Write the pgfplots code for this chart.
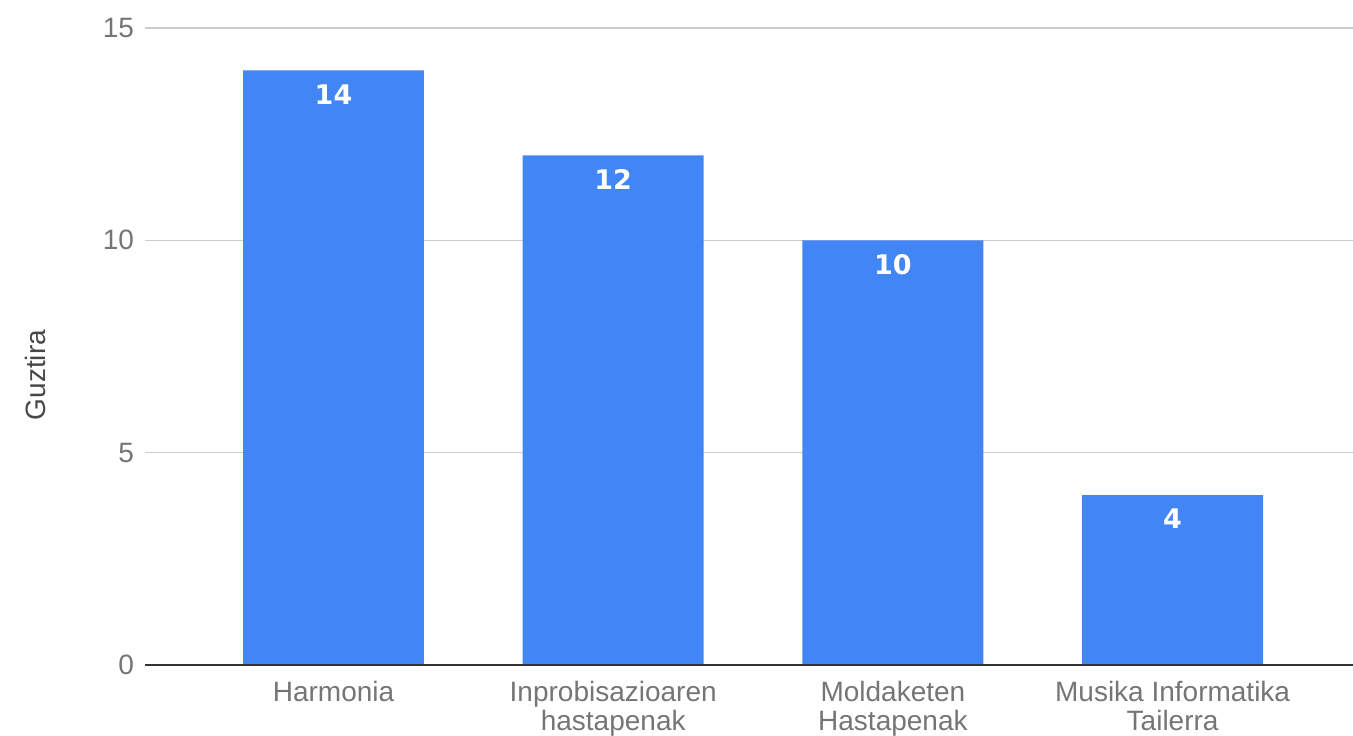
\documentclass[border=0pt]{standalone}
\usepackage{fontspec}
\setmainfont{Liberation Sans}
\newfontfamily\barfont{DejaVu Sans}
\usepackage{pgfplots}
\pgfplotsset{compat=1.18}
\definecolor{barblue}{HTML}{4285F4}
\definecolor{txtgray}{HTML}{757575}
\definecolor{gridgray}{HTML}{CCCCCC}
\definecolor{axisdark}{HTML}{333333}
\begin{document}
\begin{tikzpicture}
\begin{axis}[
  scale only axis,
  width=604pt, height=318.5pt,
  ymin=0, ymax=15,
  xmin=-0.674, xmax=3.645,
  ytick={0,5,10,15},
  xtick={0,1,2,3},
  xticklabels={Harmonia, {Inprobisazioaren\\hastapenak}, {Moldaketen\\Hastapenak}, {Musika Informatika\\Tailerra}},
  x tick label style={align=center, font=\fontsize{14}{14.5}\selectfont, text=txtgray, yshift=-4.5pt},
  y tick label style={font=\fontsize{14}{16}\selectfont, text=txtgray, xshift=-2pt},
  /pgf/number format/assume math mode=true,
  major tick length=0pt,
  ymajorgrids,
  grid style={gridgray, line width=0.8pt},
  axis lines*=left,
  axis line style={draw=none},
  ylabel={Guztira},
  ylabel style={at={(rel axis cs:-0.091,0.455)}, anchor=center, rotate=0, font=\fontsize{14}{16}\selectfont, text=axisdark!90},
  clip=false,
  nodes near coords,
  every node near coord/.append style={anchor=north, yshift=-3.5pt, text=white, font=\barfont\bfseries\fontsize{13.5}{15}\selectfont},
]
\addplot[ybar, bar width=0.647, fill=barblue, draw=none] coordinates {(0,14) (1,12) (2,10) (3,4)};
\draw[axisdark, line width=1pt] (axis cs:-0.674,0) -- (axis cs:3.645,0);
\end{axis}
\pgfresetboundingbox
\path[use as bounding box] ([shift={(-72.5pt,-35.5pt)}]current axis.south west) rectangle ([shift={(0pt,14pt)}]current axis.north east);
\end{tikzpicture}
\end{document}
